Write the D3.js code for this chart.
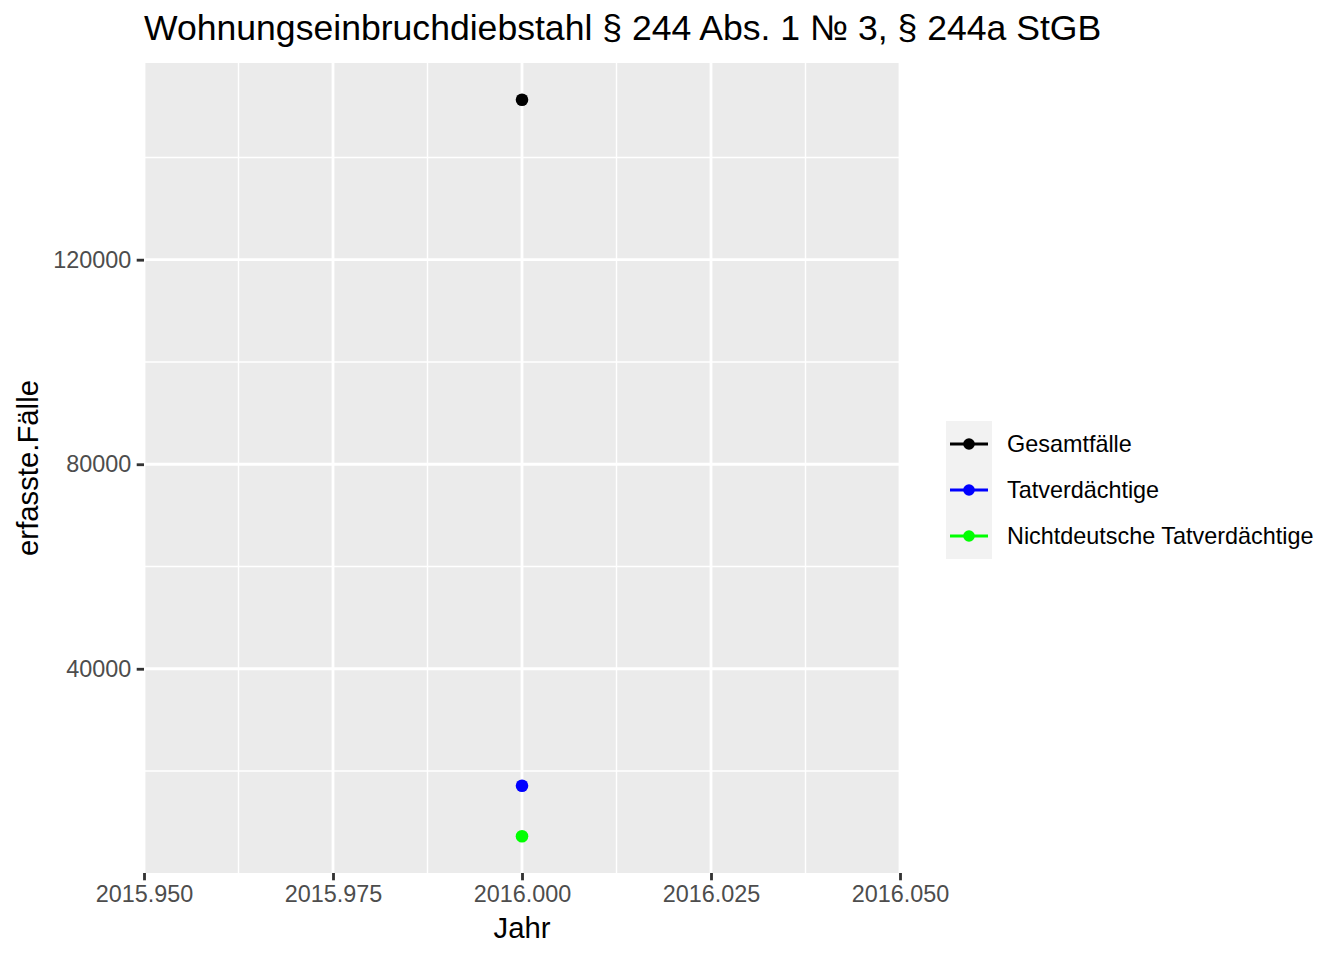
<!DOCTYPE html>
<html><head><meta charset="utf-8">
<script src="https://cdn.jsdelivr.net/npm/d3@7"></script>
<style>body{margin:0;background:#fff;} svg{display:block;font-family:"Liberation Sans",Arial,sans-serif;}</style>
</head><body>
<script>
const series = ["Gesamtfälle", "Tatverdächtige", "Nichtdeutsche Tatverdächtige"];
const colors = ["#000000", "#0000FF", "#00FF00"];
const years = [2016];
const values = [151265, 17115, 7260];
const xTicks = [2015.95, 2015.975, 2016.0, 2016.025, 2016.05];
const xMinor = [2015.9625, 2015.9875, 2016.0125, 2016.0375];
const yTicks = [40000, 80000, 120000];
const yMinor = [20000, 60000, 100000, 140000];
const title = "Wohnungseinbruchdiebstahl § 244 Abs. 1 № 3, § 244a StGB";

const W = 1344, H = 960;
const P = {l:144, r:900, t:63, b:873};
const FONT = "Liberation Sans, Arial, sans-serif";
const svg = d3.select("body").append("svg").attr("width", W).attr("height", H);

const x = d3.scaleLinear().domain([2015.95, 2016.05]).range([P.l, P.r]);
const vmin = d3.min(values), vmax = d3.max(values), pad = (vmax - vmin) * 0.05;
const y = d3.scaleLinear().domain([vmin - pad, vmax + pad]).range([P.b, P.t]);

svg.append("rect").attr("x", P.l).attr("y", P.t).attr("width", P.r - P.l).attr("height", P.b - P.t).attr("fill", "#EBEBEB");
const g = svg.append("g");
g.selectAll(".ym").data(yMinor).join("line").attr("x1", P.l).attr("x2", P.r).attr("y1", d => y(d)).attr("y2", d => y(d)).attr("stroke", "#fff").attr("stroke-width", 1.42);
g.selectAll(".xm").data(xMinor).join("line").attr("y1", P.t).attr("y2", P.b).attr("x1", d => x(d)).attr("x2", d => x(d)).attr("stroke", "#fff").attr("stroke-width", 1.42);
g.selectAll(".yM").data(yTicks).join("line").attr("x1", P.l).attr("x2", P.r).attr("y1", d => y(d)).attr("y2", d => y(d)).attr("stroke", "#fff").attr("stroke-width", 2.84);
g.selectAll(".xM").data(xTicks).join("line").attr("y1", P.t).attr("y2", P.b).attr("x1", d => x(d)).attr("x2", d => x(d)).attr("stroke", "#fff").attr("stroke-width", 2.84);

// axes
const xAxis = d3.axisBottom(x).tickValues(xTicks).tickFormat(d3.format(".3f")).tickSize(7.3).tickPadding(5.5);
const yAxis = d3.axisLeft(y).tickValues(yTicks).tickFormat(d3.format("d")).tickSize(7.3).tickPadding(5.5);
const gx = svg.append("g").attr("transform", `translate(0,${P.b})`).call(xAxis);
const gy = svg.append("g").attr("transform", `translate(${P.l},0)`).call(yAxis);
[gx, gy].forEach(a => {
  a.select(".domain").remove();
  a.selectAll(".tick line").attr("stroke", "#333333").attr("stroke-width", 2.84);
  a.selectAll(".tick text").attr("fill", "#4D4D4D").style("font-size", "23.4px").style("font-family", FONT);
});
gx.selectAll(".tick text").attr("dy", "0.71em");

// points
svg.selectAll(".pt").data(values.map((v, i) => ({v, i}))).join("circle")
  .attr("cx", () => x(years[0])).attr("cy", d => y(d.v)).attr("r", 6.3).attr("fill", d => colors[d.i]);

// titles
svg.append("text").attr("x", P.l).attr("y", 40).text(title).style("font-size", "35.6px").attr("fill", "#000");
svg.append("text").attr("x", (P.l + P.r) / 2).attr("y", 938).attr("text-anchor", "middle").text("Jahr").style("font-size", "29.3px");
svg.append("text").attr("transform", `translate(38,${(P.t + P.b) / 2}) rotate(-90)`).attr("text-anchor", "middle").text("erfasste.Fälle").style("font-size", "29.3px");

// legend
const lg = svg.append("g");
lg.append("rect").attr("x", 946).attr("y", 421).attr("width", 46).attr("height", 138).attr("fill", "#F2F2F2");
series.forEach((s, i) => {
  const cy = 444 + i * 46;
  lg.append("line").attr("x1", 950).attr("x2", 988).attr("y1", cy).attr("y2", cy).attr("stroke", colors[i]).attr("stroke-width", 2.84);
  lg.append("circle").attr("cx", 969).attr("cy", cy).attr("r", 5.8).attr("fill", colors[i]);
  lg.append("text").attr("x", 1007).attr("y", cy).attr("dy", "0.35em").text(s).style("font-size", "23.4px");
});
</script>
</body></html>
